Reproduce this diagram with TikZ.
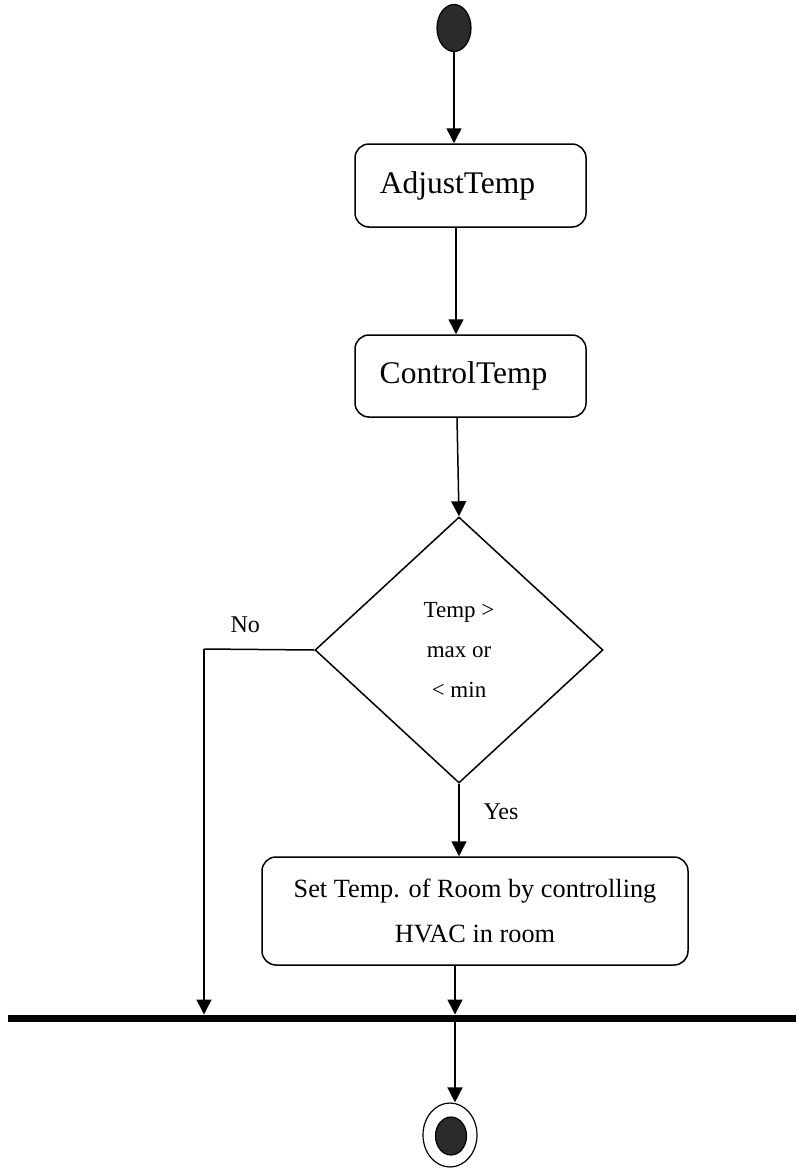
\documentclass[tikz,border=0pt]{standalone}
\usepackage{fontspec}
\setmainfont{Liberation Serif}
\usetikzlibrary{arrows.meta,shapes.geometric}
\definecolor{dotfill}{HTML}{2B2B2B}
\tikzset{
  flow/.style={line width=1.5pt,-{Triangle[width=15pt,length=15pt]}},
  plain/.style={line width=1.5pt},
  actbox/.style={draw,line width=1.5pt,rounded corners=14pt,inner sep=0pt},
  startdot/.style={ellipse,draw,line width=1.2pt,fill=dotfill,inner sep=0pt},
  decision/.style={diamond,draw,line width=1.5pt,inner sep=0pt,align=center,
    font=\fontsize{23}{40}\selectfont},
  guard/.style={font=\fontsize{24}{28}\selectfont,anchor=base west}
}
\begin{document}
\begin{tikzpicture}[x=1pt,y=-1pt]
\useasboundingbox (0,0) rectangle (796,1170);

% initial node
\node[startdot,minimum width=34pt,minimum height=47pt] (start) at (454,28) {};

% actions
\node[actbox,minimum width=231pt,minimum height=83pt,font=\fontsize{31.5}{36}\selectfont]
  (adjust) at (470.5,185.5) {AdjustTemp\hspace*{26pt}};
\node[actbox,minimum width=231pt,minimum height=82pt,font=\fontsize{31.5}{36}\selectfont]
  (control) at (470.5,376) {ControlTemp\hspace*{14pt}};

% decision
\node[decision,minimum width=288pt,minimum height=266pt] (check) at (459,650)
  {Temp >\\max or\\< min};

\node[actbox,minimum width=426pt,minimum height=108pt,align=center,
  font=\fontsize{26.3}{45}\selectfont] (hvac) at (475,911)
  {Set Temp. of Room by controlling\\HVAC in room};

% join bar
\coordinate (barL) at (8,1018);
\coordinate (barR) at (796,1018);
\draw[line width=7pt] (barL) -- (barR);
\coordinate (joinNo) at (204,1014.5);
\coordinate (joinYes) at (455,1014.5);
\coordinate (joinOut) at (455,1021.5);
\coordinate (noCorner) at (204,649);

% final node
\node[ellipse,draw,line width=1.2pt,minimum width=54pt,minimum height=64pt,inner sep=0pt]
  (final) at (450,1135) {};
\node[startdot,minimum width=31pt,minimum height=38pt] (finaldot) at (451,1136) {};

% flows
\draw[flow] (start.south) -- (adjust.north -| start.south);
\draw[flow] (adjust.south -| 456,0) -- (control.north -| 456,0);
\draw[flow] (control.south -| 457,0) -- (check.north);
\draw[plain] (check.west) -- (noCorner);
\draw[flow] (noCorner) -- (joinNo);
\draw[flow] (check.south) -- (hvac.north -| check.south);
\draw[flow] (hvac.south -| joinYes) -- (joinYes);
\draw[flow] (joinOut) -- (final.north -| joinOut);

% guards
\node[guard] (noLabel) at (227,632) {No};
\node[guard] (yesLabel) at (480,819) {Yes};
\end{tikzpicture}
\end{document}
